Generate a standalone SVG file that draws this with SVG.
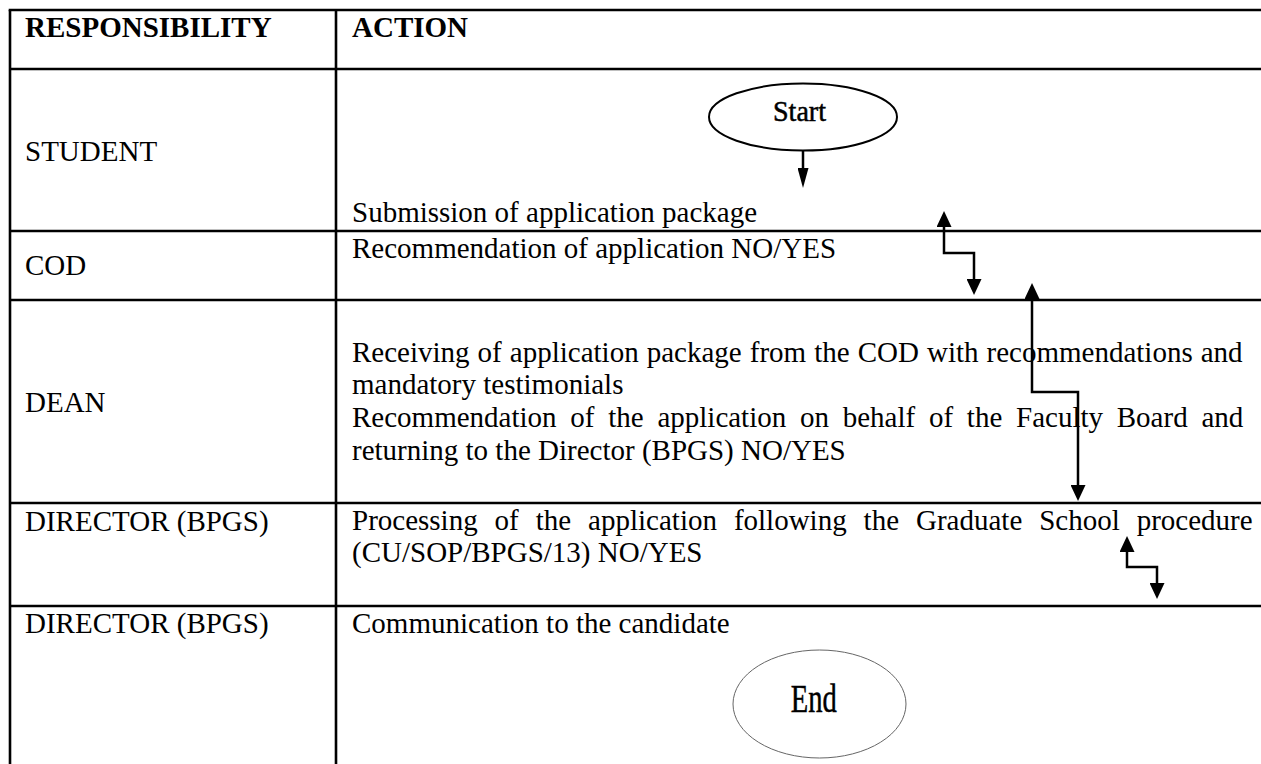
<svg xmlns="http://www.w3.org/2000/svg" width="1261" height="764" viewBox="0 0 1261 764">
<style>
  .grid { stroke: #000; stroke-width: 2.6; fill: none; }
  .t { font-family: "Liberation Serif", "Times New Roman", serif; font-size: 29px; fill: #000; }
  .b { font-weight: bold; }
  .term { stroke: #000; stroke-width: 0.5; }
  .conn { stroke: #000; stroke-width: 2.5; fill: none; }
</style>
<defs>
  <marker id="ah" viewBox="0 0 16 15" refX="0" refY="7.5" markerWidth="16" markerHeight="15" markerUnits="userSpaceOnUse" orient="auto-start-reverse">
    <path d="M0,0 L16,7.5 L0,15 z" fill="#000"/>
  </marker>
  <marker id="ahn" viewBox="0 0 20 11" refX="0" refY="5.5" markerWidth="20" markerHeight="11" markerUnits="userSpaceOnUse" orient="auto">
    <path d="M0,0 L20,5.5 L0,11 z" fill="#000"/>
  </marker>
</defs>
<rect width="1261" height="764" fill="#fff"/>
<g id="table">
  <line class="grid" x1="10" y1="10" x2="10" y2="764"/>
  <line class="grid" x1="336" y1="10" x2="336" y2="764"/>
  <line class="grid" x1="8.7" y1="10" x2="1261" y2="10"/>
  <line class="grid" x1="10" y1="69" x2="1261" y2="69"/>
  <line class="grid" x1="10" y1="231" x2="1261" y2="231"/>
  <line class="grid" x1="10" y1="300" x2="1261" y2="300"/>
  <line class="grid" x1="10" y1="503" x2="1261" y2="503"/>
  <line class="grid" x1="10" y1="606" x2="1261" y2="606"/>
</g>
<g id="headers">
  <text class="t b" x="25" y="37">RESPONSIBILITY</text>
  <text class="t b" x="352" y="37">ACTION</text>
</g>
<g id="responsibility">
  <text class="t" x="25" y="161">STUDENT</text>
  <text class="t" x="25" y="275">COD</text>
  <text class="t" x="25" y="412">DEAN</text>
  <text class="t" x="25" y="531">DIRECTOR (BPGS)</text>
  <text class="t" x="25" y="633">DIRECTOR (BPGS)</text>
</g>
<g id="start">
  <ellipse cx="803" cy="117" rx="94" ry="33.5" fill="none" stroke="#000" stroke-width="2"/>
  <text class="t term" x="799.5" y="121" text-anchor="middle" textLength="53" lengthAdjust="spacingAndGlyphs">Start</text>
</g>
<g id="submission">
  <text class="t" x="352" y="222">Submission of application package</text>
</g>
<g id="cod-recommendation">
  <text class="t" x="352" y="258">Recommendation of application NO/YES</text>
</g>
<g id="dean-actions">
  <text class="t" x="352" y="362" word-spacing="0.8">Receiving of application package from the COD with recommendations and</text>
  <text class="t" x="352" y="394">mandatory testimonials</text>
  <text class="t" x="352" y="427" word-spacing="6.5">Recommendation of the application on behalf of the Faculty Board and</text>
  <text class="t" x="352" y="460">returning to the Director (BPGS) NO/YES</text>
</g>
<g id="processing">
  <text class="t" x="352" y="530" word-spacing="9.7">Processing of the application following the Graduate School procedure</text>
  <text class="t" x="352" y="562">(CU/SOP/BPGS/13) NO/YES</text>
</g>
<g id="communication">
  <text class="t" x="352" y="633">Communication to the candidate</text>
</g>
<g id="end">
  <ellipse cx="819.5" cy="704" rx="86.5" ry="54" fill="none" stroke="#666" stroke-width="1"/>
  <text class="t term" x="813.7" y="712" style="font-size:39px" text-anchor="middle" textLength="46" lengthAdjust="spacingAndGlyphs">End</text>
</g>
<g id="connectors">
  <path class="conn" d="M803,150 V168" marker-end="url(#ahn)"/>
  <path class="conn" d="M944,227 V253 H974 V279" marker-start="url(#ah)" marker-end="url(#ah)"/>
  <path class="conn" d="M1032,299 V392 H1078 V485" marker-start="url(#ah)" marker-end="url(#ah)"/>
  <path class="conn" d="M1127,552 V567 H1157 V583" marker-start="url(#ah)" marker-end="url(#ah)"/>
</g>
</svg>
